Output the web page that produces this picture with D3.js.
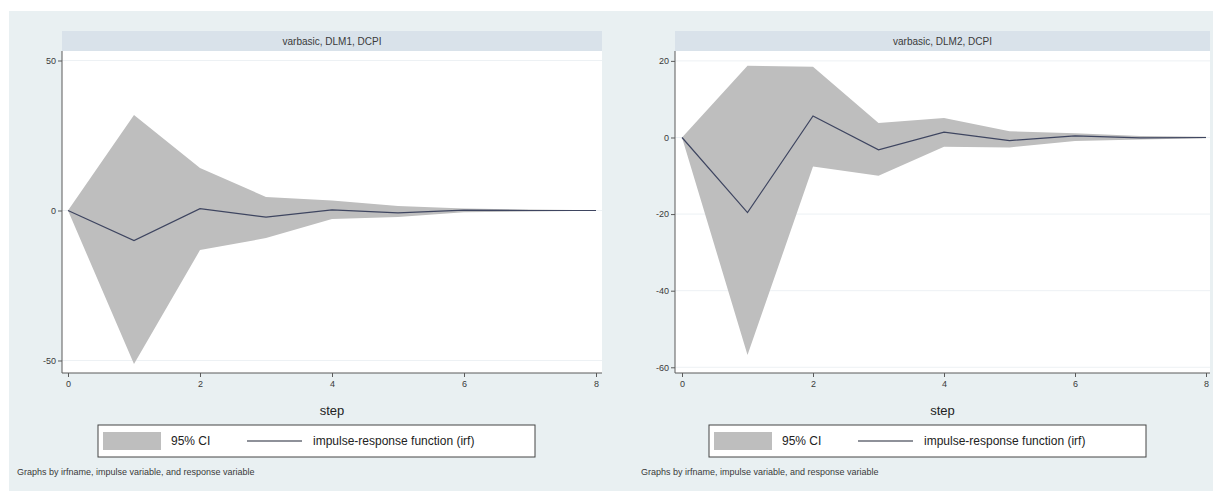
<!DOCTYPE html>
<html>
<head>
<meta charset="utf-8">
<script src="https://cdn.jsdelivr.net/npm/d3@7"></script>
<style>
html,body{margin:0;padding:0;background:#ffffff;}
svg{display:block;font-family:"Liberation Sans",Arial,sans-serif;}
</style>
</head>
<body>
<svg id="chart" width="1220" height="493"></svg>
<script>
// ---- data ----
const steps = [0, 1, 2, 3, 4, 5, 6, 7, 8];

const panelTitles = ["varbasic, DLM1, DCPI", "varbasic, DLM2, DCPI"];

const irfDLM1   = [0, -10.0, 0.6, -2.2, 0.2, -0.8, 0.1, 0.0, 0.0];
const upperDLM1 = [0, 31.8, 14.2, 4.5, 3.3, 1.5, 0.7, 0.3, 0.1];
const lowerDLM1 = [0, -51.2, -13.2, -9.2, -2.8, -2.2, -0.6, -0.3, -0.1];

const irfDLM2   = [0, -19.6, 5.6, -3.2, 1.4, -0.8, 0.4, -0.1, 0.0];
const upperDLM2 = [0, 18.7, 18.5, 3.8, 5.1, 1.6, 1.1, 0.4, 0.2];
const lowerDLM2 = [0, -56.8, -7.6, -10.0, -2.4, -2.6, -0.9, -0.5, -0.2];

const xTicks = [0, 2, 4, 6, 8];
const yTicksDLM1 = [-50, 0, 50];
const yTicksDLM2 = [-60, -40, -20, 0, 20];

const xTitle = "step";
const legendLabels = ["95% CI", "impulse-response function (irf)"];
const footnote = "Graphs by irfname, impulse variable, and response variable";

// ---- drawing ----
const svg = d3.select("#chart");
const BG = "#e9f0f2", STRIP = "#d9e2ea", BAND = "#bebebe", LINE = "#3e4560", AXIS = "#5a5a5a", TXT = "#3a3a3a";
const fmt = d => String(d);

svg.append("rect").attr("x", 9).attr("y", 11).attr("width", 1204).attr("height", 480).attr("fill", BG);

const panels = [
  {title: panelTitles[0], irf: irfDLM1, up: upperDLM1, lo: lowerDLM1, yTicks: yTicksDLM1,
   x0: 62, x1: 602, xd: [-0.0909, 8.0909], yd: [-54.17, 53.17], legX0: 98, legX1: 535, footX: 17},
  {title: panelTitles[1], irf: irfDLM2, up: upperDLM2, lo: lowerDLM2, yTicks: yTicksDLM2,
   x0: 675, x1: 1210, xd: [-0.107, 8.061], yd: [-61.49, 22.58], legX0: 709, legX1: 1146, footX: 641}
];
const yTop = 51, yBot = 373;

panels.forEach(p => {
  const g = svg.append("g");
  const x = d3.scaleLinear().domain(p.xd).range([p.x0, p.x1]);
  const y = d3.scaleLinear().domain(p.yd).range([yBot, yTop]);

  // strip
  g.append("rect").attr("x", p.x0).attr("y", 31).attr("width", p.x1 - p.x0).attr("height", yTop - 31).attr("fill", STRIP);
  g.append("text").attr("x", (p.x0 + p.x1) / 2).attr("y", 41).attr("dy", "0.35em")
    .attr("text-anchor", "middle").attr("font-size", 10).attr("fill", TXT).text(p.title);

  // plot region
  g.append("rect").attr("x", p.x0).attr("y", yTop).attr("width", p.x1 - p.x0).attr("height", yBot - yTop).attr("fill", "#ffffff");

  // grid
  g.selectAll(".grid").data(p.yTicks).enter().append("line")
    .attr("x1", p.x0).attr("x2", p.x1).attr("y1", d => y(d)).attr("y2", d => y(d))
    .attr("stroke", "#edf1f4").attr("stroke-width", 1);

  // CI band
  const area = d3.area().x((d, i) => x(steps[i])).y0((d, i) => y(p.lo[i])).y1((d, i) => y(p.up[i]));
  g.append("path").datum(steps).attr("d", area).attr("fill", BAND);

  // irf line
  const line = d3.line().x((d, i) => x(steps[i])).y((d, i) => y(p.irf[i]));
  g.append("path").datum(steps).attr("d", line).attr("fill", "none").attr("stroke", LINE).attr("stroke-width", 1.2);

  // axes
  const yAxis = d3.axisLeft(y).tickValues(p.yTicks).tickSize(4).tickPadding(2).tickFormat(fmt);
  const ga = g.append("g").attr("transform", `translate(${p.x0},0)`).call(yAxis);
  ga.select(".domain").attr("d", `M0,${yTop}V${yBot}`).attr("stroke", AXIS);
  ga.selectAll(".tick line").attr("stroke", AXIS);
  ga.selectAll("text").attr("font-size", 9).attr("fill", TXT).attr("font-family", "Liberation Sans, Arial, sans-serif");

  const xAxis = d3.axisBottom(x).tickValues(xTicks).tickSize(4).tickPadding(4).tickFormat(fmt);
  const gx = g.append("g").attr("transform", `translate(0,${yBot})`).call(xAxis);
  gx.select(".domain").attr("d", `M${p.x0},0H${p.x1}`).attr("stroke", AXIS);
  gx.selectAll(".tick line").attr("stroke", AXIS);
  gx.selectAll("text").attr("font-size", 9).attr("fill", TXT).attr("font-family", "Liberation Sans, Arial, sans-serif");

  // x title
  g.append("text").attr("x", (p.x0 + p.x1) / 2).attr("y", 410).attr("dy", "0.35em")
    .attr("text-anchor", "middle").attr("font-size", 13).attr("fill", "#222").text(xTitle);

  // legend
  const ly0 = 425, ly1 = 457;
  g.append("rect").attr("x", p.legX0).attr("y", ly0).attr("width", p.legX1 - p.legX0).attr("height", ly1 - ly0)
    .attr("fill", "#ffffff").attr("stroke", "#444").attr("stroke-width", 1);
  const lx = p.legX0;
  g.append("rect").attr("x", lx + 5).attr("y", ly0 + 7).attr("width", 58).attr("height", 18).attr("fill", BAND);
  g.append("text").attr("x", lx + 73).attr("y", (ly0 + ly1) / 2).attr("dy", "0.35em")
    .attr("font-size", 12).attr("fill", "#222").text(legendLabels[0]);
  g.append("line").attr("x1", lx + 149).attr("x2", lx + 204).attr("y1", (ly0 + ly1) / 2).attr("y2", (ly0 + ly1) / 2)
    .attr("stroke", "#1e2435").attr("stroke-width", 1.2);
  g.append("text").attr("x", lx + 215).attr("y", (ly0 + ly1) / 2).attr("dy", "0.35em")
    .attr("font-size", 12).attr("fill", "#222").text(legendLabels[1]);

  // footnote
  g.append("text").attr("x", p.footX).attr("y", 472).attr("dy", "0.35em")
    .attr("font-size", 9).attr("fill", TXT).text(footnote);
});
</script>
</body>
</html>
